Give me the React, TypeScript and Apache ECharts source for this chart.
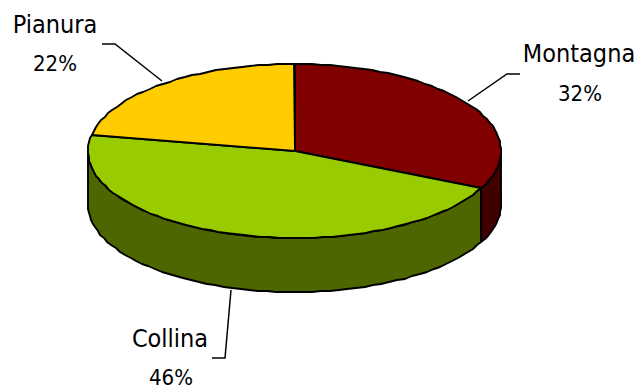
import React, { useEffect, useRef } from "react";
import * as echarts from "echarts";

const categories = ["Montagna", "Collina", "Pianura"];
const shares = [32, 46, 22];
const topColors = ["#800000", "#99CC00", "#FFCC00"];
const sideColors = ["#400000", "#4D6600", "#806600"];

// Leader lines run from the label to the rim of the disc.
const leaderLines = [
  [[520, 74], [507, 74], [468, 101]],
  [[212, 358], [225, 358], [231, 290]],
  [[102, 44], [115, 44], [162, 81]],
];
const nameAnchors = [[579, 53], [170, 338], [55, 24]];
const shareAnchors = [[580, 93], [171, 377], [55, 63]];

const CX = 294.5;
const CY = 151;
const RX = 206.5;
const RY = 87;
const DEPTH = 54;
const STEP = 2.5; // degrees per rim segment
const FONT = "'DejaVu Sans Condensed', 'DejaVu Sans', sans-serif";

const rim = (deg: number, drop = 0): number[] => {
  const a = (deg * Math.PI) / 180;
  return [
    Math.round(CX + RX * Math.sin(a)),
    Math.round(CY + drop - RY * Math.cos(a)),
  ];
};

const arcPoints = (from: number, to: number, drop = 0): number[][] => {
  const pts: number[][] = [];
  const n = Math.max(1, Math.ceil(Math.abs(to - from) / STEP));
  for (let i = 0; i <= n; i++) pts.push(rim(from + ((to - from) * i) / n, drop));
  return pts;
};

const toPath = (pts: number[][]) =>
  pts.map((p, i) => `${i ? "L" : "M"}${p[0]} ${p[1]}`).join("") + "Z";

const renderSlice = (params: any, api: any) => {
  const i = params.dataIndex;
  const total = shares.reduce((s, v) => s + v, 0);
  const before = shares.slice(0, i).reduce((s, v) => s + v, 0);
  const start = (before / total) * 360;
  const end = start + (api.value(1) / total) * 360;
  const stroke = { stroke: "#000", lineWidth: 1.9, lineJoin: "round" };
  const children: any[] = [];

  // Only the front half of the disc shows a side wall.
  const wallFrom = Math.max(start, 90);
  const wallTo = Math.min(end, 270);
  if (wallTo > wallFrom) {
    const upper = arcPoints(wallFrom, wallTo);
    const lower = arcPoints(wallTo, wallFrom, DEPTH);
    children.push({
      type: "path",
      shape: { pathData: toPath([...upper, ...lower]) },
      style: { fill: sideColors[i], ...stroke },
    });
  }

  children.push({
    type: "path",
    shape: { pathData: toPath([[Math.round(CX), CY], ...arcPoints(start, end)]) },
    style: { fill: topColors[i], ...stroke },
  });
  return { type: "group", children };
};

const renderLabel = (params: any, api: any) => {
  const i = params.dataIndex;
  const font = {
    fontFamily: FONT,
    lineHeight: 20,
    fill: "#000",
    align: "center",
    verticalAlign: "middle",
  };
  return {
    type: "group",
    children: [
      {
        type: "polyline",
        shape: { points: leaderLines[i] },
        style: { fill: "none", stroke: "#000", lineWidth: 1.5 },
      },
      {
        type: "text",
        x: nameAnchors[i][0],
        y: nameAnchors[i][1],
        style: { text: categories[i], fontSize: 25, ...font },
      },
      {
        type: "text",
        x: shareAnchors[i][0],
        y: shareAnchors[i][1],
        style: { text: `${api.value(1)}%`, fontSize: 22, ...font },
      },
    ],
  };
};

export default function App() {
  const ref = useRef<HTMLDivElement>(null);
  useEffect(() => {
    const chart = echarts.init(ref.current!, undefined, { renderer: "svg" });
    const data = categories.map((name, i) => ({ name, value: [i, shares[i]] }));
    chart.setOption({
      animation: false,
      backgroundColor: "#fff",
      series: [
        { type: "custom", coordinateSystem: "none", renderItem: renderSlice, data, z: 2, silent: true },
        { type: "custom", coordinateSystem: "none", renderItem: renderLabel, data, z: 3, silent: true },
      ],
    });
    return () => chart.dispose();
  }, []);
  return (
    <div
      ref={ref}
      style={{ position: "fixed", left: 0, top: 0, width: 637, height: 388 }}
    />
  );
}
